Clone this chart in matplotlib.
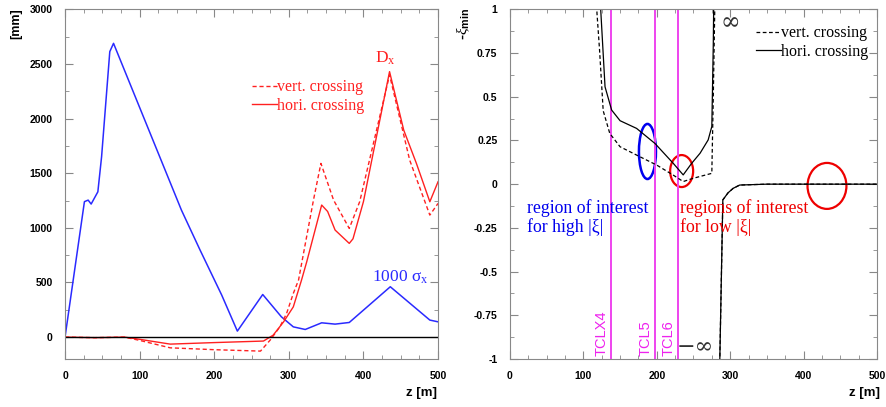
import numpy as np
import matplotlib.pyplot as plt
from matplotlib.patches import Ellipse
from matplotlib.ticker import MultipleLocator

plt.rcParams['mathtext.fontset'] = 'custom'
plt.rcParams['mathtext.rm'] = 'Liberation Serif'
plt.rcParams['mathtext.it'] = 'Liberation Serif:italic'
plt.rcParams['mathtext.bf'] = 'Liberation Sans:bold'
plt.rcParams['mathtext.fallback'] = 'stix'

# left panel: beam size and dispersion [mm]
z_sigma = [0, 26, 31, 35, 44, 49, 60, 65, 156, 181, 210, 231, 265, 290, 306, 322, 344, 362, 381, 436, 489, 500]
sigma_1000 = [0, 1240, 1254, 1218, 1330, 1651, 2613, 2689, 1163, 797, 385, 55, 390, 186, 94, 70, 131, 119, 134, 461, 156, 140]

z_dx_hori = [0, 40, 80, 100, 141, 200, 266, 279, 293, 306, 317, 324, 344, 352, 362, 381, 386, 400, 435, 454, 471, 489, 500]
dx_hori = [0, -5, 0, -20, -64, -50, -36, 18, 140, 277, 522, 690, 1209, 1150, 980, 858, 900, 1240, 2430, 1895, 1590, 1239, 1422]

z_dx_vert = [0, 40, 80, 100, 141, 200, 262, 275, 288, 297, 306, 313, 333, 343, 360, 381, 395, 435, 462, 489, 500]
dx_vert = [0, -5, 0, -30, -98, -115, -128, -27, 94, 217, 400, 522, 1254, 1590, 1254, 995, 1240, 2400, 1620, 1117, 1224]

# right panel: -xi_min (values beyond +-1 stand for +-infinity)
z_xi_hori = [123, 123.6, 129.5, 138.5, 150, 172.5, 197.5, 222.5, 236, 247.5, 259, 270, 275, 277, 278,
             np.nan, 285, 290, 297, 304, 313, 350, 500]
xi_hori = [1.2, 1.0, 0.557, 0.424, 0.363, 0.319, 0.233, 0.119, 0.053, 0.119, 0.177, 0.253, 0.33, 0.8, 1.2,
           np.nan, -1.2, -0.09, -0.05, -0.024, -0.005, 0, 0]

z_xi_vert = [118, 118.5, 122, 127, 136, 150, 177, 200, 222, 236, 250, 275, 277, 279, 280,
             np.nan, 285, 290, 297, 304, 313, 350, 500]
xi_vert = [1.2, 0.98, 0.77, 0.42, 0.29, 0.214, 0.157, 0.109, 0.053, 0.015, 0.034, 0.062, 0.5, 1.0, 1.2,
           np.nan, -1.2, -0.09, -0.05, -0.024, -0.005, 0, 0]

collimators = ['TCLX4', 'TCL5', 'TCL6']
z_coll = [138, 197.5, 228.5]

fig = plt.figure(figsize=(8.86, 4.07), dpi=100)
ax1 = fig.add_axes([0.0734, 0.118, 0.421, 0.859])
ax2 = fig.add_axes([0.5756, 0.118, 0.4142, 0.859])

tick_font = dict(family='Liberation Sans', weight='bold', size=7.5)
serif = 'Liberation Serif'


def style(ax):
    for s in ax.spines.values():
        s.set_color('#888888')
        s.set_linewidth(0.8)
    ax.tick_params(which='both', direction='in', top=True, right=True, color='#888888', pad=9)
    ax.tick_params(which='major', length=6)
    ax.tick_params(which='minor', length=3)
    for lab in ax.get_xticklabels() + ax.get_yticklabels():
        lab.set_fontproperties(tick_font)


# left
ax1.plot(z_sigma, sigma_1000, color='#2a2aff', lw=1.1)
ax1.plot(z_dx_vert, dx_vert, color='#ff2020', lw=1.0, ls=(0, (3, 2)), label='vert. crossing')
ax1.plot(z_dx_hori, dx_hori, color='#ff2020', lw=1.0, label='hori. crossing')
ax1.axhline(0, color='black', lw=1.0)
ax1.set_xlim(0, 500)
ax1.set_ylim(-200, 3000)
ax1.xaxis.set_major_locator(MultipleLocator(100))
ax1.xaxis.set_minor_locator(MultipleLocator(25))
ax1.yaxis.set_major_locator(MultipleLocator(500))
ax1.yaxis.set_minor_locator(MultipleLocator(250))
style(ax1)
leg1 = ax1.legend(loc='upper left', bbox_to_anchor=(0.50, 0.80), frameon=False, handlelength=1.6,
                  handletextpad=0.0, labelspacing=0.15, borderaxespad=0, borderpad=0,
                  prop=dict(family=serif, size=11.5))
for t in leg1.get_texts():
    t.set_color('#ff2020')
ax1.text(429, 2470, r'D$_\mathrm{x}$', color='#ff2020', fontsize=12.5, family=serif, ha='center', va='bottom')
ax1.text(450, 470, r'1000 σ$_\mathrm{x}$', color='#2a2aff', fontsize=12.5, family=serif,
         ha='center', va='bottom')
fig.text(437 / 886, 1 - 393 / 407, 'z [m]', ha='right', va='center', fontsize=9.5, weight='bold',
         family='Liberation Sans')
fig.text(16 / 886, 1 - 8 / 407, '[mm]', ha='center', va='top', rotation=90, fontsize=9, weight='bold',
         family='Liberation Sans')

# right
for name, zc in zip(collimators, z_coll):
    ax2.axvline(zc, color='#ee44ee', lw=1.4)
    ax2.text(zc - 3, -0.985, name, color='#ee22ee', rotation=90, ha='right', va='bottom', fontsize=10.5,
             family='Liberation Sans')
ax2.plot(z_xi_vert, xi_vert, color='black', lw=0.9, ls=(0, (3, 2)), label='vert. crossing')
ax2.plot(z_xi_hori, xi_hori, color='black', lw=0.9, label='hori. crossing')
ax2.add_patch(Ellipse((187.3, 0.187), 23.2, 0.315, fill=False, color='#0000ee', lw=1.8))
ax2.add_patch(Ellipse((233.9, 0.075), 31.3, 0.183, fill=False, color='#ee0000', lw=1.6))
ax2.add_patch(Ellipse((431.9, -0.01), 53, 0.263, fill=False, color='#ee0000', lw=1.6))
ax2.text(23, -0.085, 'region of interest\nfor high |ξ|', color='#0000ee', fontsize=12.8, family=serif,
         va='top', ha='left', linespacing=1.1)
ax2.text(231, -0.085, 'regions of interest\nfor low |ξ|', color='#ee0000', fontsize=12.8, family=serif,
         va='top', ha='left', linespacing=1.1)
ax2.text(287, 0.99, '∞', fontsize=17, va='top', ha='left', color='#333333', family='DejaVu Serif')
ax2.text(278, -0.995, '−∞', fontsize=16, va='bottom', ha='right', color='#333333', family='DejaVu Serif')
ax2.set_xlim(0, 500)
ax2.set_ylim(-1, 1)
ax2.xaxis.set_major_locator(MultipleLocator(100))
ax2.xaxis.set_minor_locator(MultipleLocator(25))
ax2.yaxis.set_major_locator(MultipleLocator(0.25))
ax2.yaxis.set_minor_locator(MultipleLocator(0.125))
ax2.set_yticks([-1, -0.75, -0.5, -0.25, 0, 0.25, 0.5, 0.75, 1])
ax2.set_yticklabels(['-1', '-0.75', '-0.5', '-0.25', '0', '0.25', '0.5', '0.75', '1'])
style(ax2)
leg2 = ax2.legend(loc='upper left', bbox_to_anchor=(0.670, 0.954), frameon=False, handlelength=1.6,
                  handletextpad=0.0, labelspacing=0.15, borderaxespad=0, borderpad=0,
                  prop=dict(family=serif, size=11.5))
fig.text(880 / 886, 1 - 393 / 407, 'z [m]', ha='right', va='center', fontsize=9.5, weight='bold',
         family='Liberation Sans')
fig.text(463 / 886, 1 - 8 / 407, r'-$\xi_\mathbf{min}$', ha='center', va='top', rotation=90,
         fontsize=11, weight='bold', family='Liberation Sans')

fig.savefig('out.png', dpi=100)
